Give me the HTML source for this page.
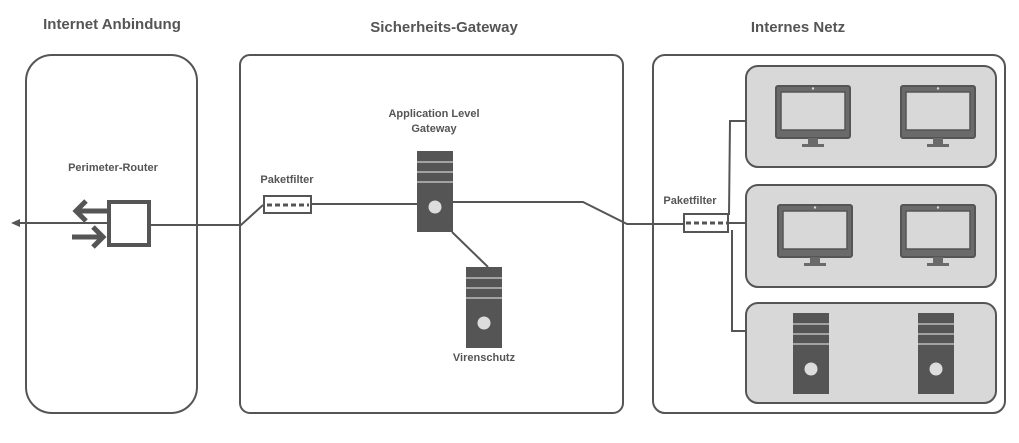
<!DOCTYPE html>
<html><head><style>body{margin:0;background:#fff}svg{display:block}text{font-family:"Liberation Sans",sans-serif;font-weight:bold;fill:#555}</style></head><body>
<svg width="1019" height="443" viewBox="0 0 1019 443">
<g font-size="15" text-anchor="middle"><text x="112" y="29">Internet Anbindung</text><text x="444" y="32">Sicherheits-Gateway</text><text x="798" y="32">Internes Netz</text></g>
<g fill="none" stroke="#555" stroke-width="2">
<rect x="26" y="55" width="171" height="358" rx="26"/>
<rect x="240" y="55" width="383" height="358" rx="10"/>
<rect x="653" y="55" width="352" height="358" rx="12"/>
</g>
<g fill="#d9d8d9" stroke="#555" stroke-width="2">
<rect x="746" y="66" width="250" height="101" rx="12"/>
<rect x="746" y="185" width="250" height="102" rx="12"/>
<rect x="746" y="303" width="250" height="100" rx="12"/>
</g>
<g font-size="11" text-anchor="middle"><text x="113" y="171">Perimeter-Router</text><text x="287" y="183">Paketfilter</text><text x="434" y="117">Application Level</text><text x="434" y="132">Gateway</text><text x="484" y="361">Virenschutz</text><text x="690" y="204">Paketfilter</text></g>
<g fill="none" stroke="#555" stroke-width="2">
<polyline points="14,223 107,223"/>
<polyline points="150,225 241,225 263,205"/>
<line x1="311" y1="204" x2="417" y2="204"/>
<polyline points="452,202 583,202 627,224 684,224"/>
<polyline points="729,215 730,121 746,121"/>
<line x1="729" y1="223" x2="746" y2="223"/>
<polyline points="732,230 732,331 746,331"/>
<line x1="452" y1="232" x2="488" y2="267"/>
</g>
<polygon points="11,223 20,219 20,227" fill="#555"/>
<rect x="109" y="202" width="40" height="43" fill="#fff" stroke="#555" stroke-width="4"/>
<g stroke="#555" stroke-width="5" fill="none"><line x1="76" y1="211" x2="107" y2="211"/><polyline points="86,201 76,211 86,221"/><line x1="72" y1="237" x2="103" y2="237"/><polyline points="93,227 103,237 93,247"/></g>
<g fill="#fff" stroke="#555" stroke-width="2"><rect x="264" y="196" width="47" height="17"/><rect x="684" y="214" width="44" height="18"/></g>
<g stroke="#555" stroke-width="3" stroke-dasharray="5,3"><line x1="267" y1="205" x2="309" y2="205"/><line x1="686" y1="223" x2="727" y2="223"/></g>
<defs>
<g id="srv"><rect x="0" y="0" width="36" height="81" fill="#555"/><g stroke="#bbb" stroke-width="1.5"><line x1="0" y1="11" x2="36" y2="11"/><line x1="0" y1="21" x2="36" y2="21"/><line x1="0" y1="31" x2="36" y2="31"/></g><circle cx="18" cy="56" r="6.5" fill="#ddd"/></g>
<g id="mon"><rect x="0" y="0" width="74" height="52" rx="2" fill="#6a6a6a" stroke="#555" stroke-width="2"/><rect x="5" y="6" width="64" height="38" fill="#d9d8d9" stroke="#555" stroke-width="1.5"/><circle cx="37" cy="2.5" r="1.2" fill="#d9d8d9"/><rect x="32" y="52" width="10" height="7" fill="#6a6a6a"/><rect x="26" y="58" width="22" height="3" fill="#6a6a6a"/></g>
</defs>
<use href="#srv" x="417" y="151"/><use href="#srv" x="466" y="267"/>
<use href="#srv" x="793" y="313"/><use href="#srv" x="918" y="313"/>
<use href="#mon" x="776" y="86"/><use href="#mon" x="901" y="86"/>
<use href="#mon" x="778" y="205"/><use href="#mon" x="901" y="205"/>
</svg>
</body></html>
